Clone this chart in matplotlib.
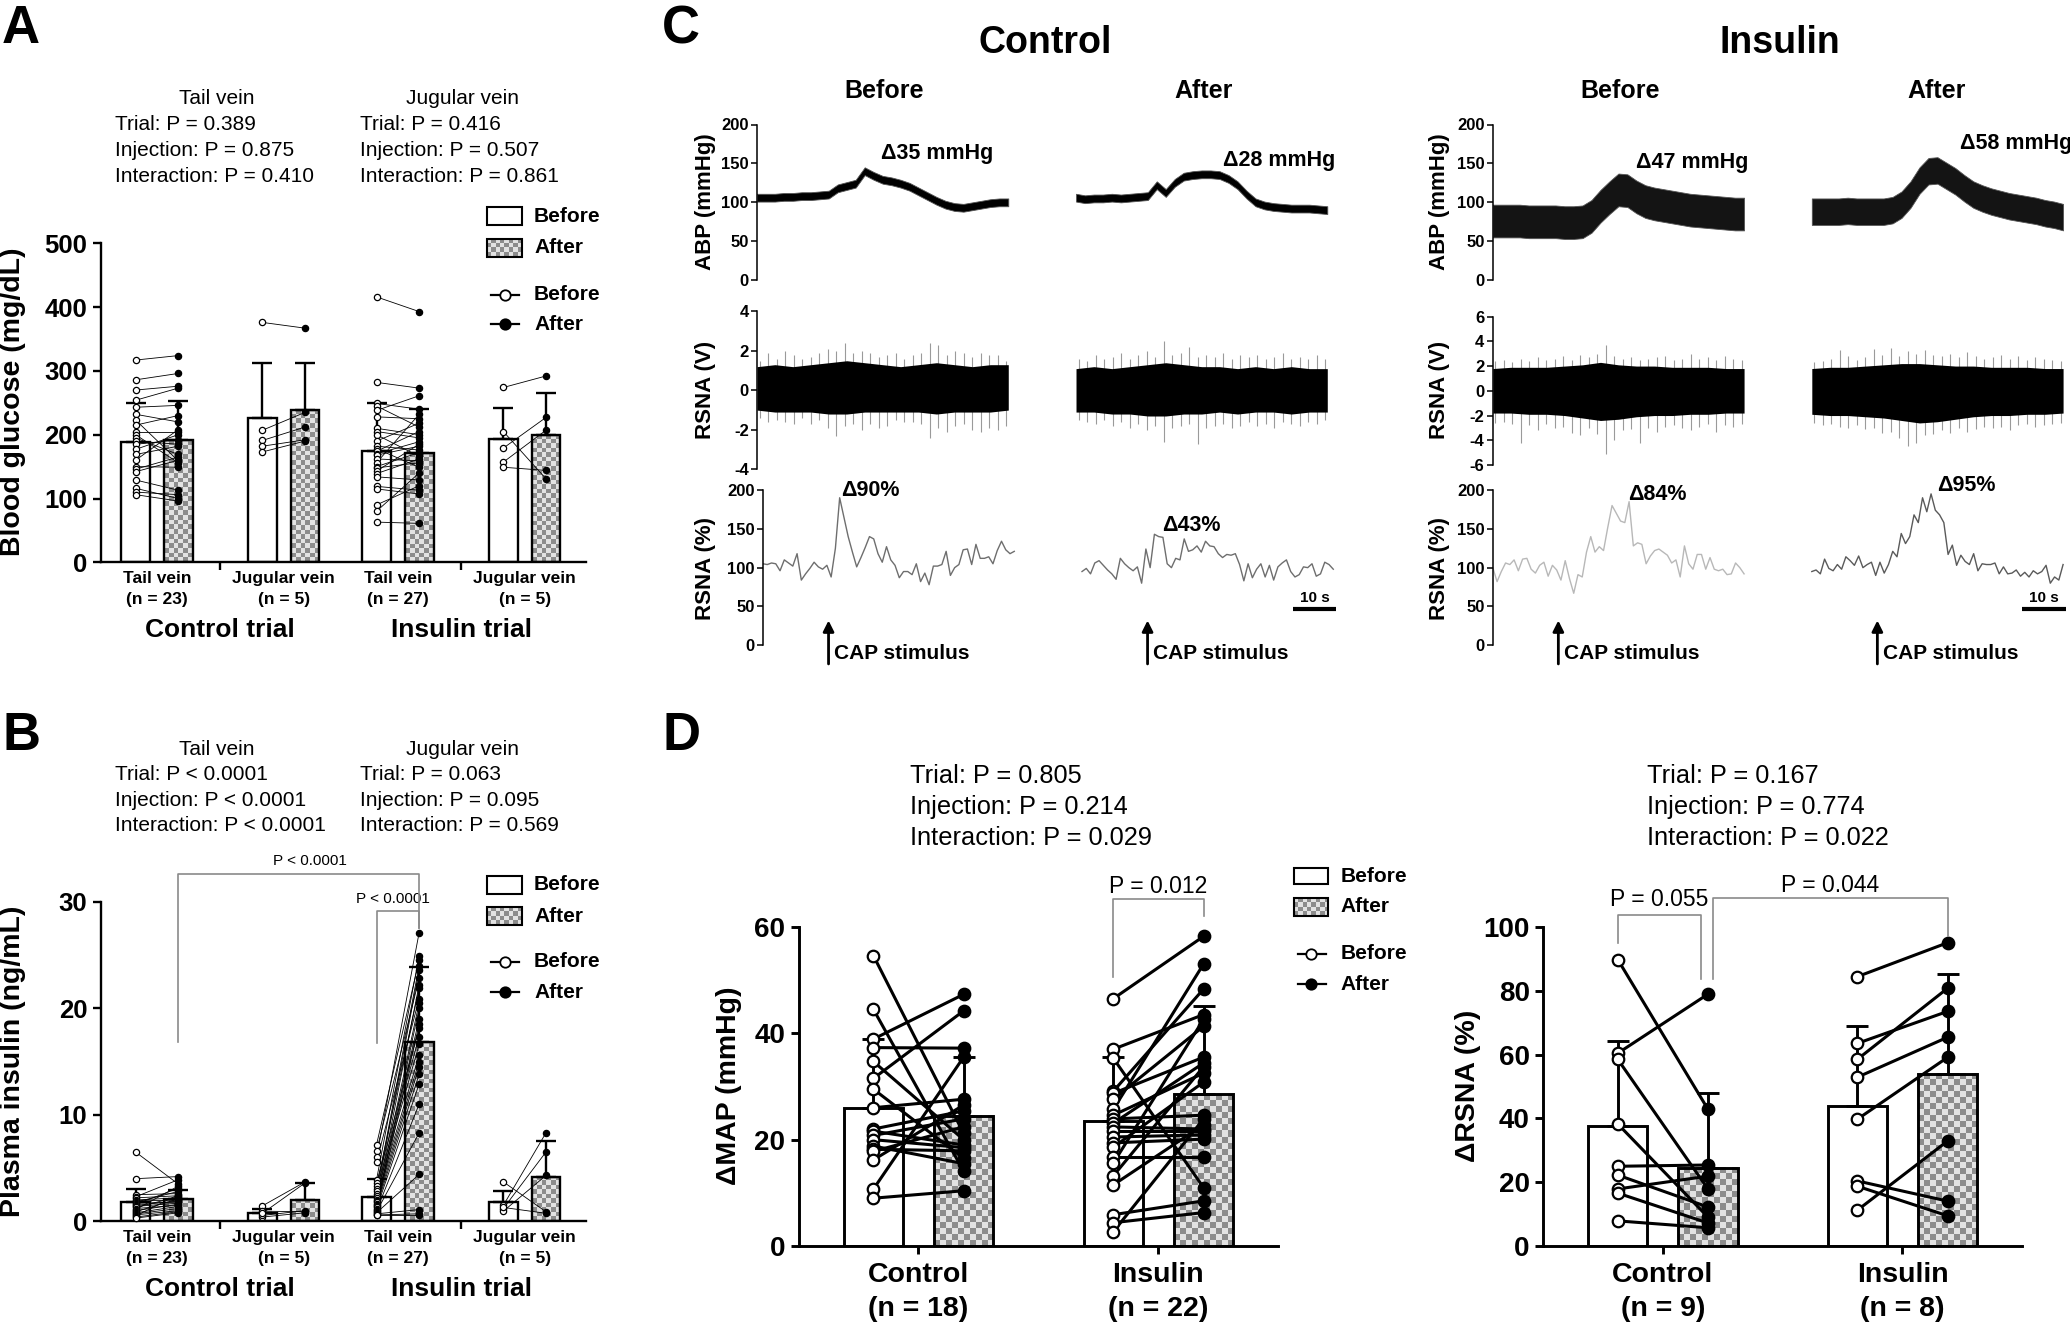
import numpy as np
import matplotlib.pyplot as plt
from matplotlib.colors import ListedColormap
from matplotlib.patches import Rectangle

plt.rcParams['font.family'] = ['Liberation Sans', 'DejaVu Sans']

FW, FH = 2070, 1326

# ---------------- panel A : blood glucose (mg/dL) ----------------
sites = ['Tail vein', 'Jugular vein', 'Tail vein', 'Jugular vein']
site_n = [23, 5, 27, 5]
trials = ['Control trial', 'Insulin trial']

glu_mean_before = [189, 226, 175, 193]
glu_sd_before = [61, 86, 74, 49]
glu_mean_after = [191, 239, 172, 200]
glu_sd_after = [62, 73, 69, 65]

glu_ct_before = [317, 286, 270, 254, 243, 232, 223, 215, 205, 200, 195, 190, 185, 177, 169, 160, 150, 146, 142, 129, 116, 110, 106]
glu_ct_after = [324, 296, 276, 273, 246, 220, 159, 230, 205, 156, 169, 185, 192, 200, 182, 208, 149, 165, 160, 113, 100, 106, 96]
glu_cj_before = [376, 207, 191, 182, 173]
glu_cj_after = [367, 235, 212, 192, 190]
glu_it_before = [416, 282, 249, 245, 238, 228, 210, 205, 200, 190, 182, 178, 174, 170, 168, 162, 156, 150, 148, 143, 139, 134, 119, 115, 90, 80, 63]
glu_it_after = [393, 273, 240, 212, 261, 225, 200, 195, 166, 218, 176, 149, 205, 189, 182, 159, 232, 172, 156, 185, 162, 129, 113, 107, 120, 140, 61]
glu_ij_before = [274, 205, 179, 157, 149]
glu_ij_after = [292, 131, 227, 207, 144]

# ---------------- panel B : plasma insulin (ng/mL) ----------------
ins_mean_before = [1.8, 0.76, 2.3, 1.8]
ins_sd_before = [1.26, 0.38, 1.71, 1.06]
ins_mean_after = [2.1, 2.0, 16.8, 4.2]
ins_sd_after = [0.88, 1.56, 7.1, 3.3]

ins_ct_before = [6.5, 4.0, 2.5, 2.3, 2.2, 2.0, 1.9, 1.8, 1.7, 1.6, 1.5, 1.4, 1.3, 1.2, 1.1, 1.0, 0.9, 0.8, 0.7, 0.6, 0.5, 0.4, 0.3]
ins_ct_after = [3.5, 4.2, 2.6, 3.9, 2.4, 2.2, 2.0, 2.8, 1.8, 3.1, 1.9, 1.7, 2.3, 1.5, 3.3, 1.6, 2.1, 1.4, 1.2, 1.0, 2.5, 0.9, 0.8]
ins_cj_before = [1.45, 0.4, 0.55, 0.95, 0.75]
ins_cj_after = [3.7, 0.8, 1.0, 0.9, 3.6]
ins_it_before = [7.2, 6.6, 6.0, 5.6, 3.9, 3.6, 3.3, 3.0, 2.8, 2.6, 2.4, 2.2, 2.0, 1.9, 1.8, 1.6, 1.5, 1.4, 1.3, 1.2, 1.1, 1.0, 0.9, 0.8, 0.7, 0.6, 0.6]
ins_it_after = [24.5, 22.8, 27.1, 20.9, 24.9, 18.1, 21.9, 17.3, 24.0, 16.6, 23.6, 15.6, 22.2, 15.0, 20.5, 14.5, 19.0, 13.8, 20.0, 12.9, 18.5, 11.0, 8.3, 4.4, 1.1, 0.6, 0.7]
ins_ij_before = [3.7, 1.5, 1.2, 0.95, 1.3]
ins_ij_after = [0.9, 8.3, 6.5, 4.3, 0.75]

# ---------------- panel C : example recordings ----------------
# ABP mean level (mmHg) every ~2 s, pulse half-amplitude per trace
abp_ctrl_before = [106, 106, 106, 107, 107, 108, 108, 109, 110, 118, 121, 124, 140, 134, 129, 127, 124, 120, 114, 108, 102, 97, 94, 93, 95, 97, 99, 100, 100]
abp_ctrl_after = [106, 104, 105, 105, 106, 105, 106, 107, 108, 122, 112, 125, 133, 135, 136, 136, 135, 130, 122, 110, 100, 96, 94, 93, 92, 92, 92, 91, 90]
abp_ins_before = [76, 76, 76, 76, 75, 75, 75, 75, 74, 74, 75, 82, 95, 106, 116, 115, 107, 101, 98, 96, 94, 92, 90, 89, 88, 87, 86, 85, 85]
abp_ins_after = [88, 88, 88, 88, 89, 88, 88, 88, 88, 90, 97, 110, 128, 140, 141, 134, 127, 118, 110, 105, 101, 98, 95, 93, 91, 89, 86, 84, 81]
abp_pulse = [5, 5, 21, 17]

# raw RSNA (V): dense core envelope every ~4 s
rsna_core_hi = [
    [1.2, 1.3, 1.2, 1.3, 1.4, 1.5, 1.4, 1.3, 1.2, 1.3, 1.4, 1.3, 1.2, 1.3, 1.3],
    [1.1, 1.2, 1.1, 1.2, 1.3, 1.4, 1.3, 1.2, 1.2, 1.1, 1.2, 1.1, 1.2, 1.1, 1.1],
    [1.8, 1.9, 1.9, 1.9, 2.0, 2.1, 2.3, 2.1, 2.0, 2.0, 1.9, 1.9, 1.9, 1.8, 1.8],
    [1.8, 1.9, 1.9, 2.0, 2.1, 2.2, 2.2, 2.1, 2.0, 2.0, 1.9, 1.9, 1.9, 1.8, 1.8]]
rsna_core_lo = [
    [-1.0, -1.1, -1.1, -1.1, -1.2, -1.2, -1.1, -1.1, -1.1, -1.1, -1.2, -1.1, -1.1, -1.1, -1.0],
    [-1.1, -1.1, -1.2, -1.2, -1.3, -1.3, -1.2, -1.2, -1.1, -1.2, -1.1, -1.1, -1.2, -1.1, -1.1],
    [-1.8, -1.8, -1.9, -1.9, -2.0, -2.2, -2.4, -2.3, -2.1, -2.0, -2.0, -1.9, -1.9, -1.8, -1.8],
    [-1.9, -2.0, -2.0, -2.1, -2.2, -2.4, -2.6, -2.5, -2.3, -2.1, -2.0, -2.0, -1.9, -1.9, -1.8]]
# raw RSNA (V): spike extremes every ~2 s
rsna_spike_hi = [
    [1.5, 1.9, 1.6, 2.0, 1.8, 1.6, 1.7, 1.9, 2.1, 2.0, 2.4, 1.9, 2.0, 1.9, 1.7, 1.8, 1.9, 1.6, 1.8, 1.9, 2.4, 2.3, 1.8, 2.0, 1.9, 1.7, 1.9, 1.8, 1.8, 1.5],
    [1.6, 1.5, 1.8, 1.6, 1.7, 1.9, 1.6, 1.8, 2.0, 1.7, 2.5, 1.8, 1.9, 2.2, 1.7, 1.8, 1.7, 1.9, 1.6, 1.8, 1.7, 1.8, 1.6, 1.7, 1.9, 1.6, 1.7, 1.6, 1.8, 1.6],
    [2.4, 2.5, 2.3, 2.6, 2.4, 2.7, 2.5, 2.6, 2.8, 2.5, 2.9, 2.7, 3.0, 3.7, 2.8, 2.6, 2.7, 2.5, 2.6, 2.7, 2.8, 2.5, 2.6, 3.0, 2.6, 2.7, 2.5, 2.8, 2.6, 2.5],
    [2.3, 2.4, 2.6, 3.3, 2.8, 2.5, 2.7, 3.4, 2.9, 3.5, 2.8, 3.2, 3.0, 3.3, 2.9, 2.8, 3.0, 2.7, 3.1, 2.8, 2.6, 2.7, 2.9, 2.6, 2.8, 2.5, 2.7, 2.6, 2.5, 2.4]]
rsna_spike_lo = [
    [-1.4, -1.6, -1.5, -1.6, -1.7, -1.4, -1.7, -1.5, -1.9, -2.3, -1.8, -1.7, -2.0, -1.7, -1.9, -1.8, -1.5, -1.6, -1.6, -1.7, -2.4, -1.9, -2.1, -1.8, -1.7, -2.0, -2.1, -1.9, -2.0, -1.8],
    [-1.5, -1.6, -1.7, -1.5, -1.8, -1.6, -1.9, -1.7, -2.0, -1.8, -2.6, -1.9, -1.8, -1.7, -2.7, -1.9, -1.8, -1.7, -1.9, -1.8, -1.6, -1.8, -1.7, -1.9, -1.6, -1.7, -1.8, -1.6, -1.7, -1.5],
    [-2.6, -2.5, -2.7, -4.2, -2.8, -3.2, -2.7, -3.0, -2.9, -3.4, -3.6, -3.0, -3.5, -5.1, -4.0, -3.2, -3.1, -4.2, -3.0, -3.3, -2.9, -2.8, -3.0, -3.2, -2.9, -2.7, -3.3, -2.8, -2.9, -2.7],
    [-2.6, -2.8, -2.7, -2.9, -3.0, -2.8, -3.1, -3.0, -3.4, -3.3, -3.8, -4.5, -4.2, -3.6, -3.5, -3.2, -3.4, -3.0, -3.3, -3.1, -2.9, -3.0, -2.9, -3.2, -2.8, -2.7, -2.9, -2.8, -2.7, -2.6]]

# integrated RSNA (% of baseline), 1-s bins
pct_ctrl_before = [105, 104, 106, 105, 96, 110, 106, 102, 118, 84, 92, 99, 107, 101, 98, 103, 88, 125, 190, 165,
                   140, 120, 101, 113, 126, 140, 137, 118, 107, 127, 110, 103, 87, 95, 95, 91, 105, 82, 93, 78,
                   102, 102, 104, 121, 90, 100, 104, 123, 124, 104, 130, 112, 112, 114, 105, 122, 134, 123, 118, 121]
pct_ctrl_after = [95, 99, 92, 106, 109, 103, 97, 92, 85, 112, 105, 100, 96, 101, 80, 124, 100, 143, 140, 139,
                  105, 100, 112, 110, 137, 121, 123, 128, 120, 134, 128, 127, 118, 113, 117, 116, 118, 104, 83, 105,
                  87, 98, 105, 88, 103, 84, 101, 106, 110, 95, 88, 91, 101, 100, 105, 89, 92, 107, 104, 98]
pct_ins_before = [100, 82, 95, 106, 104, 110, 96, 111, 112, 98, 93, 103, 107, 89, 103, 97, 84, 109, 86, 67,
                  91, 88, 120, 140, 120, 127, 122, 152, 180, 170, 160, 158, 185, 128, 132, 130, 105, 115, 122, 124,
                  120, 116, 106, 110, 88, 128, 105, 98, 117, 117, 98, 113, 98, 96, 98, 91, 92, 106, 100, 92]
pct_ins_after = [95, 97, 92, 111, 99, 96, 104, 98, 114, 109, 103, 115, 100, 104, 107, 90, 107, 93, 104, 121,
                 114, 144, 131, 140, 168, 158, 190, 172, 195, 174, 168, 158, 117, 129, 103, 116, 108, 104, 118, 96,
                 105, 104, 104, 106, 92, 101, 92, 93, 97, 89, 94, 88, 96, 92, 95, 103, 80, 88, 84, 104]

abp_labels = ['\u039435 mmHg', '\u039428 mmHg', '\u039447 mmHg', '\u039458 mmHg']
pct_labels = ['\u039490%', '\u039443%', '\u039484%', '\u039495%']

# ---------------- panel D : CAP responses ----------------
d_groups = ['Control', 'Insulin']
map_n = [18, 22]
rsna_n = [9, 8]

map_mean_before = [26.0, 23.5]
map_sd_before = [12.9, 12.0]
map_mean_after = [24.5, 28.5]
map_sd_after = [11.0, 16.7]
map_ctrl_before = [54.6, 44.5, 38.9, 37.3, 34.7, 31.5, 29.5, 26.0, 22.0, 21.6, 20.8, 20.0, 18.8, 18.2, 17.8, 16.2, 10.7, 9.0]
map_ctrl_after = [21.2, 14.1, 47.3, 37.2, 20.0, 44.2, 16.5, 27.6, 25.4, 19.0, 23.9, 18.5, 15.5, 17.9, 22.4, 26.5, 35.5, 10.4]
map_ins_before = [46.5, 37.0, 35.3, 29.1, 28.7, 27.6, 25.7, 24.6, 23.9, 23.1, 22.4, 21.6, 20.5, 19.4, 18.6, 16.7, 15.6, 13.2, 11.5, 5.9, 4.4, 2.7]
map_ins_after = [58.2, 43.5, 11.0, 48.3, 35.5, 41.3, 53.0, 32.5, 24.6, 34.4, 22.0, 21.6, 20.9, 20.1, 30.8, 16.7, 42.6, 33.7, 22.8, 8.5, 6.3, 23.9]

rsna_mean_before = [37.5, 43.75]
rsna_sd_before = [26.6, 25.25]
rsna_mean_after = [24.5, 53.9]
rsna_sd_after = [23.4, 31.2]
rsna_ctrl_before = [89.75, 60.4, 58.5, 38.25, 25.0, 22.25, 17.9, 16.6, 7.9]
rsna_ctrl_after = [42.9, 78.9, 17.9, 9.1, 25.4, 12.25, 21.9, 7.25, 5.75]
rsna_ins_before = [84.4, 63.5, 58.5, 52.9, 39.75, 20.4, 18.75, 11.25]
rsna_ins_after = [95.0, 73.5, 80.75, 65.4, 59.1, 14.1, 9.5, 32.9]

CHECK = ListedColormap(['#e2e2e2', '#8c8c8c'])

fig = plt.figure(figsize=(FW / 100, FH / 100), dpi=100)


def add_ax(l, t, r, b):
    return fig.add_axes([l / FW, 1 - b / FH, (r - l) / FW, (b - t) / FH])


def checker(ax, x0, x1, y0, y1, cell=5.0, zorder=2.5):
    p0 = ax.transData.transform((x0, y0))
    p1 = ax.transData.transform((x1, y1))
    nx = max(1, int(round(abs(p1[0] - p0[0]) / cell)))
    ny = max(1, int(round(abs(p1[1] - p0[1]) / cell)))
    tex = np.add.outer(np.arange(ny), np.arange(nx)) % 2
    ax.imshow(tex, cmap=CHECK, vmin=0, vmax=1, extent=(x0, x1, y0, y1),
              aspect='auto', interpolation='nearest', zorder=zorder)


def style_bar_ax(ax, xlim, ylim, yticks, xticks, tsize, lw):
    ax.set_xlim(*xlim)
    ax.set_ylim(*ylim)
    ax.set_yticks(yticks, [str(v) for v in yticks], fontweight='bold')
    ax.set_xticks(xticks, [''] * len(xticks))
    ax.spines[['top', 'right']].set_visible(False)
    ax.spines[['left', 'bottom']].set_linewidth(lw)
    ax.tick_params(direction='out', length=6, width=lw, labelsize=tsize)
    ax.patch.set_alpha(0)


def paired(ax, xs, off, w, mb, sb, ma, sa, pb, pa, ms, mew, lw_pt, lw_bar, cap, cell):
    for i, x in enumerate(xs):
        xb, xa = x - off, x + off
        ax.bar(xb, mb[i], w, facecolor='white', edgecolor='black', linewidth=lw_bar, zorder=2)
        checker(ax, xa - w / 2, xa + w / 2, 0, ma[i], cell)
        ax.bar(xa, ma[i], w, facecolor='none', edgecolor='black', linewidth=lw_bar, zorder=3)
        for xc, m, s in ((xb, mb[i], sb[i]), (xa, ma[i], sa[i])):
            ax.errorbar([xc], [m], yerr=[[0], [s]], fmt='none', ecolor='black',
                        elinewidth=lw_bar, capsize=cap, capthick=lw_bar, zorder=4)
        for yb, ya in zip(pb[i], pa[i]):
            ax.plot([xb, xa], [yb, ya], color='black', lw=lw_pt, zorder=5)
        ax.plot([xb] * len(pb[i]), pb[i], 'o', mfc='white', mec='black', ms=ms, mew=mew, zorder=6, clip_on=False)
        ax.plot([xa] * len(pa[i]), pa[i], 'o', mfc='black', mec='black', ms=ms, mew=mew, zorder=6, clip_on=False)


def bracket(ax, x0, x1, ytop, y0, y1, label, ty, tsize, tx=None):
    ax.plot([x0, x0, x1, x1], [y0, ytop, ytop, y1], color='#8a8a8a', lw=1.2, clip_on=False, zorder=7)
    ax.text((x0 + x1) / 2 if tx is None else tx, ty, label, ha='center', va='center',
            fontsize=tsize, clip_on=False)


# ---------------- A and B ----------------
grp_x = [0, 1, 1.9, 2.9]
off_ab, w_ab = 0.168, 0.227

ab_panels = [
    (243.3, 562.3, (0, 500), [0, 100, 200, 300, 400, 500],
     glu_mean_before, glu_sd_before, glu_mean_after, glu_sd_after,
     [glu_ct_before, glu_cj_before, glu_it_before, glu_ij_before],
     [glu_ct_after, glu_cj_after, glu_it_after, glu_ij_after]),
    (901.7, 1221.3, (0, 30), [0, 10, 20, 30],
     ins_mean_before, ins_sd_before, ins_mean_after, ins_sd_after,
     [ins_ct_before, ins_cj_before, ins_it_before, ins_ij_before],
     [ins_ct_after, ins_cj_after, ins_it_after, ins_ij_after]),
]
ab_axes = []
for top, bot, ylim, yt, mb, sb, ma, sa, pb, pa in ab_panels:
    ax = add_ax(100.5, top, 585.5, bot)
    style_bar_ax(ax, (-0.445, 3.38), ylim, yt, [0.5, 2.4], 18.5, 1.7)
    paired(ax, grp_x, off_ab, w_ab, mb, sb, ma, sa, pb, pa, 4.5, 0.9, 0.6, 1.7, 7.5, 4.6)
    tr = ax.get_xaxis_transform()
    for x, s, n in zip(grp_x, sites, site_n):
        ax.text(x, -0.052, s, transform=tr, ha='center', va='center', fontsize=12.5, fontweight='bold')
        ax.text(x, -0.117, '(n = %d)' % n, transform=tr, ha='center', va='center', fontsize=12.5, fontweight='bold')
    for x, s in zip([0.5, 2.4], trials):
        ax.text(x, -0.213, s, transform=tr, ha='center', va='center', fontsize=19, fontweight='bold')
    ab_axes.append(ax)

axB = ab_axes[1]
bracket(axB, grp_x[0] + off_ab, grp_x[2] + off_ab, 32.6, 16.8, 27.5, 'P < 0.0001', 33.8, 11, tx=1.21)
bracket(axB, grp_x[2] - off_ab, grp_x[2] + off_ab, 29.1, 16.7, 27.5, 'P < 0.0001', 30.3, 11, tx=1.86)

# ---------------- C ----------------
T_SPAN = 131.5
PX_S = 4.37
t_abp = np.linspace(0, 57.5, 29)
t_env = np.linspace(0, 57.5, 15)
t_spk = np.linspace(0.6, 57.0, 30)
t_pct = np.linspace(0, 57.5, 60)
T_AFTER = 73.0
T_STIM = 15.0

abp_sets = [abp_ctrl_before, abp_ctrl_after, abp_ins_before, abp_ins_after]
pct_sets = [pct_ctrl_before, pct_ctrl_after, pct_ins_before, pct_ins_after]
abp_colors = ['black', 'black', '#141414', '#141414']
pct_colors = ['#6e6e6e', '#6e6e6e', '#b8b8b8', '#5a5a5a']

c_cols = [
    (757.0, 763.0, (311.4, 469.3), [-4, -2, 0, 2, 4]),
    (1492.8, 1492.8, (316.6, 465.0), [-6, -4, -2, 0, 2, 4, 6]),
]


def trace_ax(l, t, b, ylim, yticks):
    ax = add_ax(l, t, l + T_SPAN * PX_S, b)
    ax.set_xlim(0, T_SPAN)
    ax.set_ylim(*ylim)
    ax.set_yticks(yticks, [str(v) for v in yticks], fontweight='bold')
    ax.set_xticks([])
    ax.spines[['top', 'right', 'bottom']].set_visible(False)
    ax.spines['left'].set_linewidth(1.1)
    ax.tick_params(axis='y', length=4, width=1.1, labelsize=12, pad=2)
    ax.patch.set_alpha(0)
    return ax


for c, (l_top, l_pct, (rt, rb), rticks) in enumerate(c_cols):
    a_abp = trace_ax(l_top, 124.5, 280.2, (0, 200), [0, 50, 100, 150, 200])
    lim = rticks[-1]
    a_rsna = trace_ax(l_top, rt, rb, (-lim, lim), rticks)
    a_pct = trace_ax(l_pct, 490.0, 645.3, (0, 200), [0, 50, 100, 150, 200])
    for j in range(2):
        k = 2 * c + j
        t0 = T_AFTER * j
        m = np.array(abp_sets[k])
        a_abp.fill_between(t_abp + t0, m - abp_pulse[k], m + abp_pulse[k], color=abp_colors[k], lw=0.6,
                           edgecolor='#555555')
        a_rsna.vlines(t_spk + t0, rsna_spike_lo[k], rsna_spike_hi[k], color='#9a9a9a', lw=0.8, zorder=2)
        a_rsna.fill_between(t_env + t0, rsna_core_lo[k], rsna_core_hi[k], color='black', lw=0, zorder=3)
        a_pct.plot(t_pct + t0, pct_sets[k], color=pct_colors[k], lw=1.0)
        ts = T_STIM + t0
        a_pct.annotate('', xy=(ts, 32), xytext=(ts, -24), annotation_clip=False,
                       arrowprops=dict(arrowstyle='-|>', color='black', lw=2, mutation_scale=16,
                                       shrinkA=0, shrinkB=0))
        a_pct.text(ts + 1.2, -10, 'CAP stimulus', ha='left', va='center', fontsize=15,
                   fontweight='bold', clip_on=False)
    a_pct.plot([121.2, 131.2], [47, 47], color='black', lw=3, solid_capstyle='butt', clip_on=False)
    a_pct.text(126.2, 61, '10 s', ha='center', va='center', fontsize=11, fontweight='bold', clip_on=False)

# ---------------- D ----------------
d_x = [0, 1]
off_d, w_d = 0.188, 0.248
d_panels = [
    (798.5, 1278.4, (0, 60), [0, 20, 40, 60], map_mean_before, map_sd_before, map_mean_after, map_sd_after,
     [map_ctrl_before, map_ins_before], [map_ctrl_after, map_ins_after], map_n),
    (1543.0, 2022.3, (0, 100), [0, 20, 40, 60, 80, 100], rsna_mean_before, rsna_sd_before,
     rsna_mean_after, rsna_sd_after, [rsna_ctrl_before, rsna_ins_before], [rsna_ctrl_after, rsna_ins_after], rsna_n),
]
d_axes = []
for l, r, ylim, yt, mb, sb, ma, sa, pb, pa, nn in d_panels:
    ax = add_ax(l, 926.8, r, 1246.1)
    style_bar_ax(ax, (-0.5, 1.5), ylim, yt, d_x, 20, 2.1)
    paired(ax, d_x, off_d, w_d, mb, sb, ma, sa, pb, pa, 8.3, 1.6, 2.2, 2.1, 8, 6)
    tr = ax.get_xaxis_transform()
    for x, s, n in zip(d_x, d_groups, nn):
        ax.text(x, -0.09, s, transform=tr, ha='center', va='center', fontsize=20.5, fontweight='bold')
        ax.text(x, -0.196, '(n = %d)' % n, transform=tr, ha='center', va='center', fontsize=20.5, fontweight='bold')
    d_axes.append(ax)

bracket(d_axes[0], 1 - off_d, 1 + off_d, 65.3, 50.6, 62.1, 'P = 0.012', 67.6, 16.5)
bracket(d_axes[1], -off_d, 0.16, 103.75, 95, 83.75, 'P = 0.055', 108.6, 16.5)
bracket(d_axes[1], 0.21, 1 + off_d, 109.1, 83.75, 97.25, 'P = 0.044', 113.0, 16.5)

# ---------------- overlay: letters, headers, statistics, legends ----------------
ov = fig.add_axes([0, 0, 1, 1])
ov.set_xlim(0, FW)
ov.set_ylim(FH, 0)
ov.axis('off')
ov.set_zorder(10)


def otext(x, y, s, size, weight='normal', ha='left', **kw):
    ov.text(x, y, s, fontsize=size, fontweight=weight, ha=ha, va='center', **kw)


for s, x, y in [('A', 2, 4), ('B', 2, 711), ('C', 662, 4), ('D', 662, 711)]:
    ov.text(x, y, s, fontsize=38, fontweight='bold', ha='left', va='top')

stats_a = [('Tail vein', ['Trial: P = 0.389', 'Injection: P = 0.875', 'Interaction: P = 0.410']),
           ('Jugular vein', ['Trial: P = 0.416', 'Injection: P = 0.507', 'Interaction: P = 0.861'])]
stats_b = [('Tail vein', ['Trial: P < 0.0001', 'Injection: P < 0.0001', 'Interaction: P < 0.0001']),
           ('Jugular vein', ['Trial: P = 0.063', 'Injection: P = 0.095', 'Interaction: P = 0.569'])]
for stats, ys in [(stats_a, [98, 124.2, 150.3, 176]), (stats_b, [749.6, 774.4, 800.3, 825.9])]:
    for (head, lines), xc, xl in zip(stats, [217, 462], [114.8, 360.5]):
        otext(xc, ys[0], head, 15, ha='center')
        for y, s in zip(ys[1:], lines):
            otext(xl, y, s, 15)

stats_d = [['Trial: P = 0.805', 'Injection: P = 0.214', 'Interaction: P = 0.029'],
           ['Trial: P = 0.167', 'Injection: P = 0.774', 'Interaction: P = 0.022']]
for lines, xl in zip(stats_d, [910, 1647]):
    for y, s in zip([775.8, 807, 837.7], lines):
        otext(xl, y, s, 18.3)


def legends(x0, x1, tx, rects, marks, mline, mxc, ms):
    (bt, bb), (at, ab) = rects
    ov.add_patch(Rectangle((x0, bt), x1 - x0, bb - bt, facecolor='white', edgecolor='black', lw=1.5))
    checker(ov, x0, x1, ab, at, 4.6, zorder=2)
    ov.add_patch(Rectangle((x0, at), x1 - x0, ab - at, facecolor='none', edgecolor='black', lw=1.5, zorder=3))
    otext(tx, (bt + bb) / 2, 'Before', 15, 'bold')
    otext(tx, (at + ab) / 2, 'After', 15, 'bold')
    for y, fc, s in zip(marks, ['white', 'black'], ['Before', 'After']):
        ov.plot(mline, [y, y], color='black', lw=1.6)
        ov.plot([mxc], [y], 'o', mfc=fc, mec='black', ms=ms, mew=1.3)
        otext(tx, y, s, 15, 'bold')


legends(487, 522, 534, [(207, 225), (238.6, 256.7)], [294.6, 324], [491, 518.5], 505, 7.5)
legends(487, 522, 534, [(875.8, 893.6), (907, 925)], [961.7, 992.2], [491, 518.5], 505, 7.5)
legends(1293.5, 1328.4, 1340.9, [(867.7, 884.4), (898.4, 915.6)], [953.5, 984.2], [1298, 1326], 1311.4, 7.5)

# panel C headings and annotations
otext(1045.6, 43.4, 'Control', 27, 'bold', ha='center')
otext(1780, 43.4, 'Insulin', 27, 'bold', ha='center')
for x, s in zip([884.3, 1204, 1620, 1937], ['Before', 'After', 'Before', 'After']):
    otext(x, 91, s, 18, 'bold', ha='center')
for (x, y), s in zip([(880.8, 154), (1222.6, 160.5), (1636, 162.6), (1959.5, 143)], abp_labels):
    otext(x, y, s, 15.5, 'bold')
for (x, y), s in zip([(841, 490), (1162, 525.6), (1627.7, 494.4), (1937.3, 485.7)], pct_labels):
    otext(x, y, s, 15.5, 'bold')

# axis titles
otext(13.5, 402, 'Blood glucose (mg/dL)', 20.5, 'bold', ha='center', rotation=90)
otext(13.5, 1061, 'Plasma insulin (ng/mL)', 20.5, 'bold', ha='center', rotation=90)
for x in [705, 1440]:
    otext(x, 202, 'ABP (mmHg)', 16, 'bold', ha='center', rotation=90)
    otext(x, 390, 'RSNA (V)', 16, 'bold', ha='center', rotation=90)
    otext(x, 568, 'RSNA (%)', 16, 'bold', ha='center', rotation=90)
otext(729, 1086, '\u0394MAP (mmHg)', 20.5, 'bold', ha='center', rotation=90)
otext(1468, 1086, '\u0394RSNA (%)', 20.5, 'bold', ha='center', rotation=90)

fig.savefig('out.png', dpi=100)
